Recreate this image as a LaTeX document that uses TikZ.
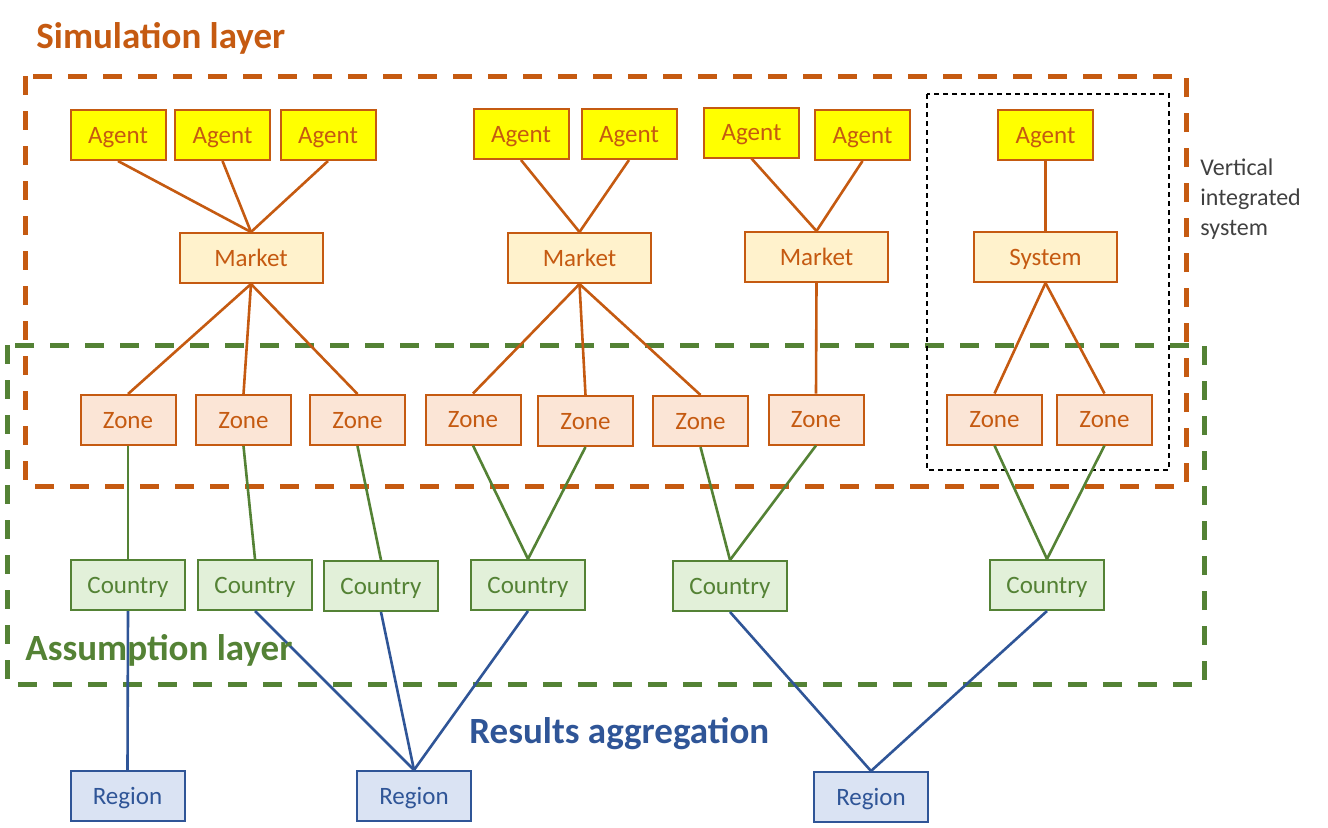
\documentclass[tikz,border=0pt]{standalone}
\usepackage{fontspec}
\setmainfont{Carlito}
\usepackage{tikz}
\usetikzlibrary{positioning}

\definecolor{simOrange}{HTML}{C55A11}
\definecolor{agentYellow}{HTML}{FFFF00}
\definecolor{marketFill}{HTML}{FFF2CC}
\definecolor{zoneFill}{HTML}{FBE5D6}
\definecolor{asmGreen}{HTML}{548235}
\definecolor{countryFill}{HTML}{E2F0D9}
\definecolor{resBlue}{HTML}{2F5597}
\definecolor{regionFill}{HTML}{DAE3F3}
\definecolor{noteGray}{HTML}{404040}

\begin{document}
\begin{tikzpicture}[x=0.5pt,y=-0.5pt]

    \tikzstyle{commonNode}=[rectangle, font=\fontsize{12.5}{14}\selectfont, align=center, line width=1pt, inner sep=0pt, minimum height=25pt, text height=8pt, text depth=0pt]
    \tikzstyle{agent}=[commonNode, draw=simOrange, text=simOrange, fill=agentYellow, minimum width=47.5pt]
    \tikzstyle{market}=[commonNode, draw=simOrange, text=simOrange, fill=marketFill, minimum width=71.5pt]
    \tikzstyle{zone}=[commonNode, draw=simOrange, text=simOrange, fill=zoneFill, minimum width=47.5pt]
    \tikzstyle{country}=[commonNode, draw=asmGreen, text=asmGreen, fill=countryFill, minimum width=57pt]
    \tikzstyle{region}=[commonNode, draw=resBlue, text=resBlue, fill=regionFill, minimum width=57pt]
    \tikzstyle{simLink}=[draw=simOrange, line width=1.3pt]
    \tikzstyle{asmLink}=[draw=asmGreen, line width=1.3pt]
    \tikzstyle{resLink}=[draw=resBlue, line width=1.3pt]
    \tikzstyle{layerBox}=[line width=2.5pt, dash pattern=on 9.5pt off 8pt]
    \tikzstyle{layerTitle}=[font=\fontsize{18.5}{22}\selectfont\bfseries, anchor=base west, inner sep=0pt]

    \useasboundingbox (0,0) rectangle (1328,827);

    \begin{scope}
        % Rows
        \def \agentrow {135}
        \def \marketrow {258}
        \def \zonerow {420}
        \def \countryrow {585}
        \def \regionrow {796}

        % Layers
        \draw[layerBox, simOrange] (25,76) rectangle (1186,486);
        \draw[layerBox, asmGreen] (7,345) rectangle (1204,684);
        \draw[line width=0.75pt, dash pattern=on 2.5pt off 2pt] (927,94) rectangle (1169,470);

        % Agents
        \node at (118, \agentrow)   [agent] (A1) {Agent};
        \node at (222.5, \agentrow) [agent] (A2) {Agent};
        \node at (328, \agentrow)   [agent] (A3) {Agent};
        \node at (521, 134)         [agent] (A4) {Agent};
        \node at (629, 134)         [agent] (A5) {Agent};
        \node at (751.5, 132.5)     [agent] (A6) {Agent};
        \node at (862.5, \agentrow) [agent] (A7) {Agent};
        \node at (1045.5, \agentrow) [agent] (A8) {Agent};

        % Markets and system
        \node at (251, \marketrow)   [market] (M1) {Market};
        \node at (579.5, \marketrow) [market] (M2) {Market};
        \node at (816.5, 257)        [market] (M3) {Market};
        \node at (1045.5, 257)       [market] (SYS) {System};

        % Zones
        \node at (128, \zonerow)    [zone] (Z1) {Zone};
        \node at (243.5, \zonerow)  [zone] (Z2) {Zone};
        \node at (357.5, \zonerow)  [zone] (Z3) {Zone};
        \node at (473, 419.5)       [zone] (Z4) {Zone};
        \node at (585.5, 421)       [zone] (Z5) {Zone};
        \node at (700.5, 421)       [zone] (Z6) {Zone};
        \node at (816, 419.5)       [zone] (Z7) {Zone};
        \node at (994.5, 419.5)     [zone] (Z8) {Zone};
        \node at (1104.5, 419.5)    [zone] (Z9) {Zone};

        % Countries
        \node at (128, \countryrow)  [country] (C1) {Country};
        \node at (255, \countryrow)  [country] (C2) {Country};
        \node at (381, 586)          [country] (C3) {Country};
        \node at (528, \countryrow)  [country] (C4) {Country};
        \node at (730, 586)          [country] (C5) {Country};
        \node at (1047, \countryrow) [country] (C6) {Country};

        % Regions
        \node at (127.5, \regionrow) [region] (R1) {Region};
        \node at (414, \regionrow)   [region] (R2) {Region};
        \node at (871, 797)          [region] (R3) {Region};

        % Simulation links
        \path (M1.north) edge [simLink] (A1.south) edge [simLink] (A2.south) edge [simLink] (A3.south);
        \path (M2.north) edge [simLink] (A4.south) edge [simLink] (A5.south);
        \path (M3.north) edge [simLink] (A6.south) edge [simLink] (A7.south);
        \path (SYS.north) edge [simLink] (A8.south);
        \path (M1.south) edge [simLink] (Z1.north) edge [simLink] (Z2.north) edge [simLink] (Z3.north);
        \path (M2.south) edge [simLink] (Z4.north) edge [simLink] (Z5.north) edge [simLink] (Z6.north);
        \path (M3.south) edge [simLink] (Z7.north);
        \path (SYS.south) edge [simLink] (Z8.north) edge [simLink] (Z9.north);

        % Assumption links
        \path (C1.north) edge [asmLink] (Z1.south);
        \path (C2.north) edge [asmLink] (Z2.south);
        \path (C3.north) edge [asmLink] (Z3.south);
        \path (C4.north) edge [asmLink] (Z4.south) edge [asmLink] (Z5.south);
        \path (C5.north) edge [asmLink] (Z6.south) edge [asmLink] (Z7.south);
        \path (C6.north) edge [asmLink] (Z8.south) edge [asmLink] (Z9.south);

        % Results links
        \path (R1.north) edge [resLink] (C1.south);
        \path (R2.north) edge [resLink] (C2.south) edge [resLink] (C3.south) edge [resLink] (C4.south);
        \path (R3.north) edge [resLink] (C5.south) edge [resLink] (C6.south);

        % Titles
        \node at (36, 48)   [layerTitle, text=simOrange] (simTitle) {Simulation layer};
        \node at (25, 660)  [layerTitle, text=asmGreen]  (asmTitle) {Assumption layer};
        \node at (469, 743) [layerTitle, text=resBlue]   (resTitle) {Results aggregation};
        \node at (1200, 158) [anchor=north west, align=left, inner sep=0pt, text=noteGray, font=\fontsize{12}{15}\selectfont] (vertNote) {Vertical\\integrated\\system};
    \end{scope}

\end{tikzpicture}
\end{document}
